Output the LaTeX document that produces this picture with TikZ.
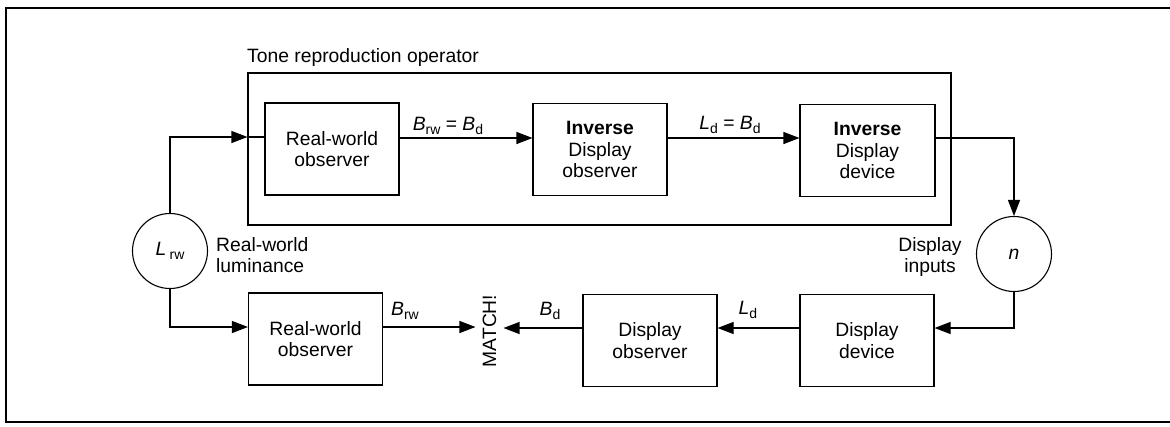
\documentclass[tikz,border=0pt]{standalone}
\usepackage{fontspec}
\setmainfont{Liberation Sans}
\usetikzlibrary{arrows.meta}
\newcommand\mysub[1]{\raisebox{-0.35ex}{\fontsize{14}{14}\selectfont #1}}
\begin{document}
\begin{tikzpicture}[x=1pt,y=-1pt,
  every node/.style={font=\fontsize{19.3}{21.5}\selectfont},
  blk/.style={draw,line width=1.1pt,minimum width=134pt,minimum height=92pt,align=center,inner sep=0pt},
  circ/.style={draw,line width=1.1pt,circle,minimum size=75pt,inner sep=0pt},
  con/.style={line width=1.1pt},
  arr/.style={line width=1.1pt,-{Triangle[length=16pt,width=12pt]}},
  lbl/.style={inner sep=0pt}]
\useasboundingbox (0,0) rectangle (1170,426);
\draw[line width=1.4pt] (1172,8) -- (6,8) -- (6,422) -- (1172,422);
% tone reproduction box
\node[draw,line width=1.1pt,minimum width=703pt,minimum height=152pt,inner sep=0pt] (tone) at (599.5,149) {};
\node[lbl,anchor=west] (tonelbl) at (247,58) {Tone reproduction operator};
% top row
\node[blk] (rwo) at (332,149) {Real-world\\observer};
\node[blk] (ido) at (600,149.5) {\textbf{Inverse}\\Display\\observer};
\node[blk,minimum width=135pt] (idd) at (867.5,150.5) {\textbf{Inverse}\\Display\\device};
% circles
\node[circ] (Lrw) at (170,251) {\textit{L}\,\mysub{rw}};
\node[circ] (n) at (1014,254) {\textit{n}};
\node[lbl,anchor=west,align=left] (rwl) at (216,255) {Real-world\\luminance};
\node[lbl,align=center] (din) at (930,257) {Display\\inputs};
% bottom row
\node[blk] (rwo2) at (315.5,339) {Real-world\\observer};
\node[blk] (do) at (650,340.5) {Display\\observer};
\node[blk] (dd) at (867,340.5) {Display\\device};
\node[inner xsep=7pt,inner ysep=0pt] (match) at (489.5,331) {\rotatebox{90}{MATCH!}};
% connectors
\draw[arr] (Lrw.north) |- (tone.west |- 0,137);
\draw[con] (tone.west |- 0,137) -- (rwo.west |- 0,137);
\draw[arr] (rwo.east |- 0,138) -- (ido.west |- 0,138);
\draw[arr] (ido.east |- 0,138) -- (idd.west |- 0,138);
\draw[arr] (idd.east |- 0,138) -| (n.north);
\draw[arr] (n.south) |- (dd.east |- 0,328);
\draw[arr] (dd.west |- 0,328) -- (do.east |- 0,328);
\draw[arr] (do.west |- 0,328) -- (match.east |- 0,328);
\draw[arr] (Lrw.south) |- (rwo2.west |- 0,327);
\draw[arr] (rwo2.east |- 0,327) -- (match.west |- 0,327);
% labels
\node[lbl] (l1) at (448,126) {\textit{B}\mysub{rw} = \textit{B}\mysub{d}};
\node[lbl] (l2) at (730,125) {\textit{L}\mysub{d} = \textit{B}\mysub{d}};
\node[lbl] (l3) at (405,311) {\textit{B}\mysub{rw}};
\node[lbl] (l4) at (550,311) {\textit{B}\mysub{d}};
\node[lbl] (l5) at (748,310) {\textit{L}\mysub{d}};
\end{tikzpicture}
\end{document}
